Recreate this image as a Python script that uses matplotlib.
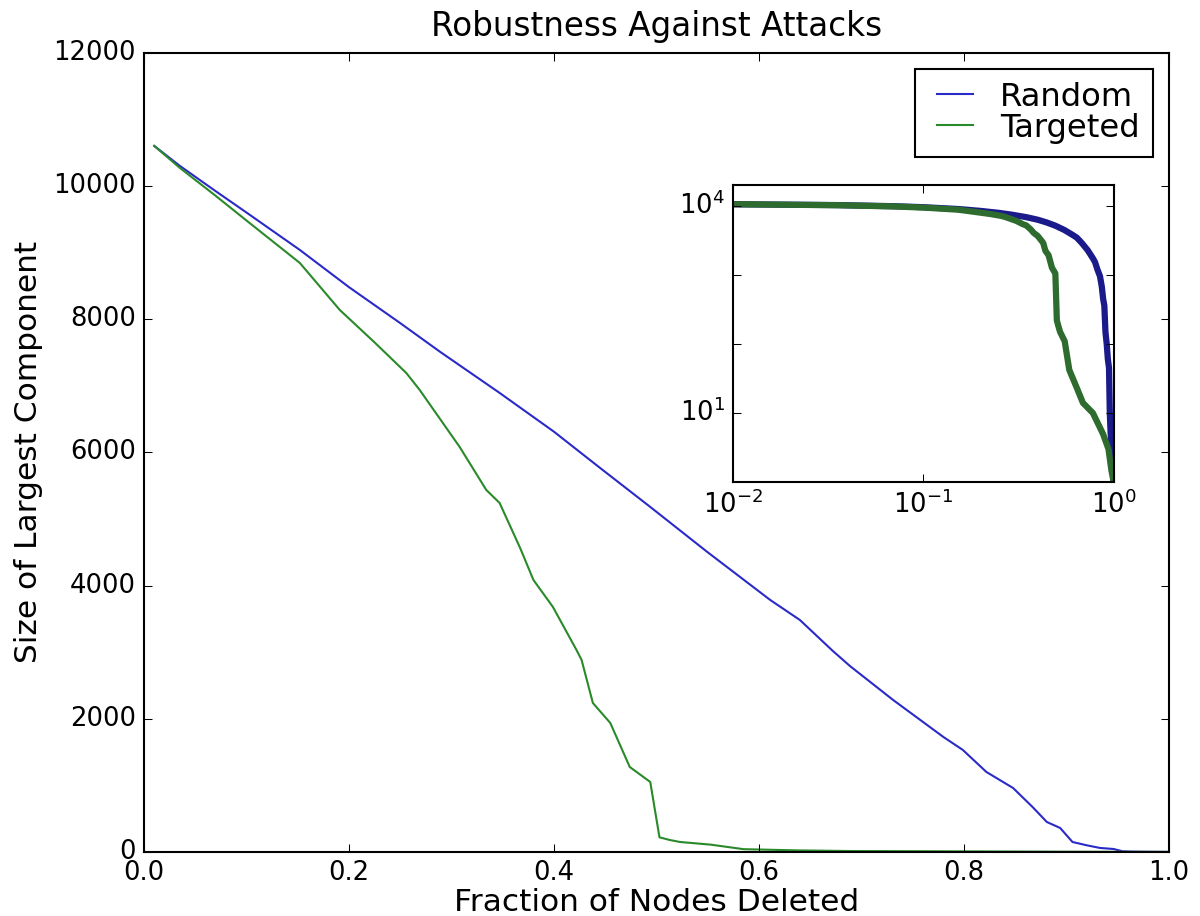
import matplotlib
matplotlib.use("Agg")
import matplotlib.pyplot as plt

plt.style.use('classic')
plt.rcParams['mathtext.fontset'] = 'dejavusans'

# fraction of nodes deleted vs size of largest component
x_random = [0.01, 0.035, 0.07, 0.1, 0.152, 0.2, 0.25, 0.289, 0.347, 0.4,
            0.445, 0.494, 0.55, 0.611, 0.64, 0.672, 0.689, 0.731, 0.78, 0.799,
            0.822, 0.848, 0.867, 0.881, 0.894, 0.906, 0.92, 0.933, 0.946, 0.955,
            0.965, 0.98, 0.99, 1.0]
y_random = [10600, 10300, 9920, 9600, 9039, 8480, 7940, 7508, 6892, 6310,
            5766, 5180, 4500, 3784, 3483, 3020, 2790, 2282, 1727, 1532,
            1201, 961, 676, 450, 360, 150, 100, 60, 45, 10,
            5, 3, 2, 1]

x_targeted = [0.01, 0.035, 0.07, 0.1, 0.152, 0.191, 0.225, 0.256, 0.269, 0.308,
              0.334, 0.347, 0.367, 0.38, 0.399, 0.422, 0.427, 0.438, 0.455, 0.474,
              0.494, 0.503, 0.513, 0.523, 0.553, 0.585, 0.637, 0.69, 0.778, 0.879,
              0.94, 0.973, 1.0]
y_targeted = [10600, 10270, 9850, 9480, 8844, 8138, 7650, 7190, 6937, 6081,
              5435, 5240, 4565, 4084, 3679, 3033, 2883, 2237, 1937, 1276,
              1051, 220, 180, 150, 110, 42, 24, 14, 10, 5,
              3, 1.5, 1]

fig = plt.figure(figsize=(8, 6.1067), dpi=150, facecolor='white')
ax = fig.add_axes([0.12, 0.0699, 0.854, 0.8726])
ax.plot(x_random, y_random, color='#2a2ac8', label='Random')
ax.plot(x_targeted, y_targeted, color='#2a8a2a', label='Targeted')
ax.set_xlim(0, 1)
ax.set_ylim(0, 12000)
ax.tick_params(labelsize=12.4)
ax.set_title('Robustness Against Attacks', fontsize=15.7, pad=8)
ax.set_xlabel('Fraction of Nodes Deleted', fontsize=15, labelpad=1)
ax.set_ylabel('Size of Largest Component', fontsize=15, labelpad=5)
ax.legend(loc='upper right', fontsize=15.5, labelspacing=0.0, handlelength=1.7,
          handletextpad=0.55, borderpad=0.4, borderaxespad=0.5)

# inset, log-log
ins = fig.add_axes([0.611, 0.4738, 0.317, 0.324])
ins.loglog(x_random, y_random, color='#1a1a8a', lw=3)
ins.loglog(x_targeted, y_targeted, color='#2e6b2e', lw=3)
ins.set_xlim(0.01, 1.0)
ins.set_ylim(1, 2e4)
ins.set_yticks([10, 100, 1000, 10000])
ins.set_yticklabels(['$10^{1}$', '', '', '$10^{4}$'])
ins.minorticks_off()
ins.tick_params(labelsize=12.4)

fig.savefig('out.png', dpi=150, facecolor='white')
